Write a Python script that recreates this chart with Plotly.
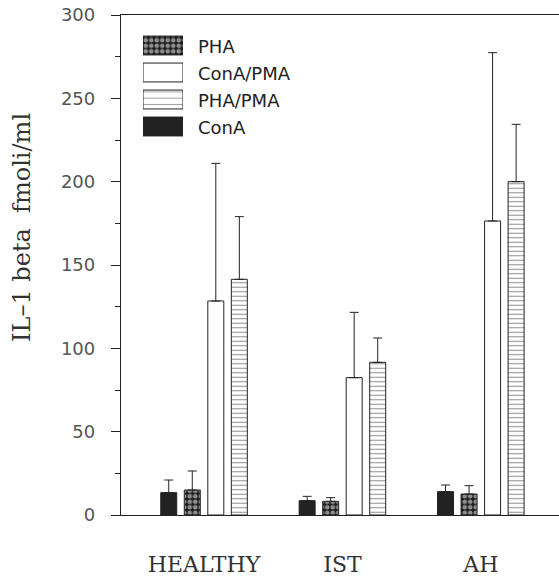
import plotly.graph_objects as go

# Groups and stimulation conditions
groups = ["HEALTHY", "IST", "AH"]
conditions = ["ConA", "PHA", "ConA/PMA", "PHA/PMA"]

# Mean IL-1 beta (fmoli/ml) per group, and upper error (SD) per group
conA = [13.4, 8.6, 14.0]
conA_err = [7.6, 2.6, 4.0]
pha = [15.0, 8.2, 12.6]
pha_err = [11.4, 2.2, 5.0]
conA_pma = [128.4, 82.4, 176.4]
conA_pma_err = [82.6, 39.2, 101.0]
pha_pma = [141.4, 91.6, 200.0]
pha_pma_err = [37.6, 14.6, 34.4]

# Legend entries in display order
legend_labels = ["PHA", "ConA/PMA", "PHA/PMA", "ConA"]

INK = "#222222"
W, H = 559, 585
ML, MR, MT, MB = 121, 0, 15, 70
PW, PH = W - ML - MR, H - MT - MB


def px_x(x):
    return (x - ML) / PW


def px_y(y):
    return (H - MB - y) / PH


styles = {
    "ConA": dict(color=INK, pattern=dict(shape="")),
    "PHA": dict(color="#1a1a1a", pattern=dict(shape=".", fgcolor="white", size=5.5, solidity=0.55)),
    "ConA/PMA": dict(color="white", pattern=dict(shape="")),
    "PHA/PMA": dict(color="white", pattern=dict(shape="-", fgcolor=INK, size=4.5, solidity=0.24)),
}

series = {
    "ConA": (conA, conA_err),
    "PHA": (pha, pha_err),
    "ConA/PMA": (conA_pma, conA_pma_err),
    "PHA/PMA": (pha_pma, pha_pma_err),
}

fig = go.Figure()
for name in conditions:
    vals, errs = series[name]
    st = styles[name]
    fig.add_trace(go.Bar(
        x=groups, y=vals, name=name, showlegend=False,
        marker=dict(color=st["color"], pattern=st["pattern"],
                    line=dict(color=INK, width=1)),
        error_y=dict(type="data", array=errs, arrayminus=[0] * len(errs),
                     symmetric=False, color=INK, thickness=1, width=4.5),
    ))

# Custom legend swatches drawn as horizontal bars on an overlay axis
fig.add_trace(go.Bar(
    x=[1] * len(legend_labels), y=list(range(len(legend_labels))),
    orientation="h", width=0.7, base=0, showlegend=False, hoverinfo="skip",
    xaxis="x2", yaxis="y2",
    marker=dict(
        color=[styles[n]["color"] for n in legend_labels],
        pattern=dict(
            shape=[styles[n]["pattern"]["shape"] for n in legend_labels],
            fgcolor=[styles[n]["pattern"].get("fgcolor", INK) for n in legend_labels],
            size=[5.5, 5, 6.3, 5], solidity=[0.55, 0.3, 0.17, 0.3],
        ),
        line=dict(color=INK, width=1),
    ),
))

row_top, row_h = 32, 27
annotations = []
for i, lab in enumerate(legend_labels):
    yc = row_top + row_h * (i + 0.5)
    annotations.append(dict(
        text=lab, xref="paper", yref="paper", x=px_x(196), y=px_y(yc + 1),
        xanchor="left", yanchor="middle", showarrow=False,
        font=dict(family="DejaVu Sans", size=18, color=INK),
    ))

annotations.append(dict(
    text="IL\u20131 beta  fmoli/ml", textangle=-90, xref="paper", yref="paper",
    x=px_x(22), y=px_y(228), xanchor="center", yanchor="middle", showarrow=False,
    font=dict(family="DejaVu Serif", size=24, color="#333333"),
))

fig.update_layout(
    width=W, height=H,
    margin=dict(l=ML, r=MR, t=MT, b=MB, pad=0),
    paper_bgcolor="white", plot_bgcolor="white",
    barmode="group", bargap=0.32, bargroupgap=0.32,
    showlegend=False,
    annotations=annotations,
    xaxis=dict(
        type="category", range=[-0.6, 2.565],
        showline=True, linecolor=INK, linewidth=1.3, mirror=True,
        ticks="", showgrid=False, zeroline=False,
        tickfont=dict(family="DejaVu Serif", size=22, color="#333333"),
        ticklabelstandoff=29,
    ),
    yaxis=dict(
        range=[0, 300], tickvals=[0, 50, 100, 150, 200, 250, 300],
        showline=True, linecolor=INK, linewidth=1.3,
        ticks="outside", ticklen=9, tickwidth=1.2, tickcolor=INK,
        minor=dict(tickvals=[25, 75, 125, 175, 225, 275], ticks="outside",
                   ticklen=5, tickwidth=1.2, tickcolor=INK),
        showgrid=False, zeroline=False,
        tickfont=dict(family="DejaVu Sans", size=18, color="#555555"),
        ticklabelstandoff=12,
    ),
    xaxis2=dict(domain=[px_x(143), px_x(183)], range=[0, 1], visible=False,
                anchor="y2", fixedrange=True),
    yaxis2=dict(domain=[px_y(row_top + row_h * 4), px_y(row_top)],
                range=[3.5, -0.5], visible=False, anchor="x2", fixedrange=True),
)

fig.write_html("out.html")
